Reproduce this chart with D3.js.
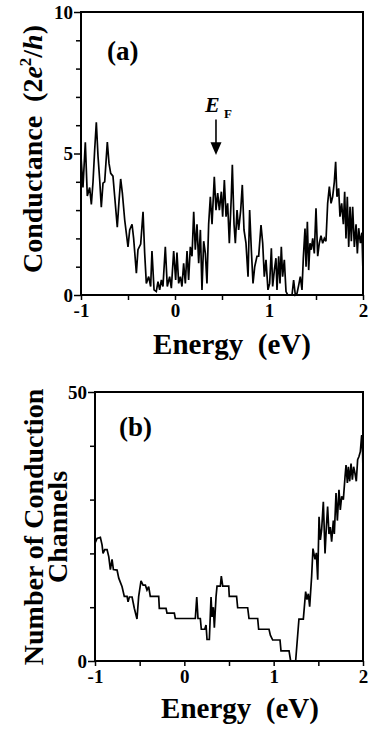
<!DOCTYPE html>
<html><head><meta charset="utf-8">
<script src="https://cdn.jsdelivr.net/npm/d3@7/dist/d3.min.js"></script>
<style>
html,body{margin:0;padding:0;background:#fff;}
svg{display:block;}
text{font-family:"Liberation Serif","Times New Roman",serif;font-weight:bold;fill:#000;}
</style></head>
<body>
<svg id="chart" width="371" height="730"></svg>
<script>
// ---- Panel (a): conductance vs energy ----
const energyA = [-1.0,-0.979,-0.954,-0.933,-0.908,-0.890,-0.872,-0.855,-0.837,-0.819,
 -0.801,-0.784,-0.766,-0.748,-0.720,-0.702,-0.684,-0.660,-0.642,-0.614,
 -0.596,-0.578,-0.560,-0.535,-0.500,-0.482,-0.457,-0.440,-0.411,-0.394,
 -0.365,-0.340,-0.323,-0.305,-0.280,-0.259,-0.245,-0.223,-0.199,-0.181,
 -0.163,-0.145,-0.128,-0.103,-0.082,-0.057,-0.039,-0.014,0.007,0.021,
 0.039,0.057,0.074,0.092,0.110,0.128,0.145,0.163,0.181,0.199,
 0.216,0.234,0.252,0.270,0.287,0.305,0.323,0.340,0.358,0.376,
 0.394,0.418,0.436,0.454,0.472,0.493,0.507,0.525,0.543,0.560,
 0.578,0.599,0.610,0.628,0.642,0.660,0.677,0.699,0.716,0.734,
 0.755,0.777,0.794,0.812,0.830,0.848,0.872,0.890,0.915,0.933,
 0.950,0.968,0.989,1.007,
 1.025,1.039,1.057,1.074,1.085,1.103,1.117,1.131,1.145,1.163,
 1.181,1.199,1.216,1.245,1.262,1.280,1.298,1.316,1.333,1.351,
 1.365,1.383,1.394,1.408,1.422,1.436,1.450,1.465,1.482,1.500,
 1.518,1.535,1.553,1.571,1.589,1.606,1.624,1.642,1.660,1.677,
 1.695,1.709,1.723,1.741,1.755,1.773,1.791,1.805,1.819,1.833,
 1.848,1.862,1.876,1.890,1.908,1.926,1.940,1.954,1.972,1.989,2.0];
const conductanceA = [4.9,3.8,5.4,3.5,3.8,3.2,4.0,5.1,6.1,4.9,
 4.06,3.1,3.95,4.0,5.4,4.65,4.3,4.2,3.5,2.4,
 3.3,4.1,3.6,2.65,1.7,2.3,2.5,2.0,0.77,1.6,
 1.8,2.94,1.5,0.41,0.65,0.3,1.55,0.18,0.12,0.47,
 0.18,0.53,0.3,1.7,0.3,0.65,0.24,1.55,0.53,1.5,
 0.41,0.65,0.3,1.12,0.41,1.55,0.53,1.7,1.37,2.94,
 1.6,2.5,1.12,2.3,0.18,1.9,1.47,0.41,2.5,3.47,
 2.5,4.18,3.0,3.6,3.0,3.65,2.77,4.06,2.77,3.24,
 1.83,3.47,4.6,2.5,1.83,3.0,2.3,3.0,3.89,2.3,
 1.83,0.65,3.0,1.6,0.41,1.0,1.37,1.37,2.47,1.83,
 0.65,1.24,0.18,0.41,
 1.65,0.3,0.88,1.3,0.18,1.37,0.41,1.7,0.65,1.24,
 0.12,0,0,0,0.53,0,0.06,0.35,0.65,0.18,
 1.3,2.35,1.0,2.59,0.88,1.83,1.6,2.0,1.47,3.06,
 1.37,1.83,2.1,1.83,2.0,1.9,3.24,3.83,3.24,3.47,
 4.0,4.71,3.47,3.77,2.77,3.24,2.5,3.65,2.0,3.47,
 1.7,3.12,1.9,3.12,1.7,2.5,1.47,2.36,1.83,2.2,0.77];

// ---- Panel (b): number of conduction channels vs energy ----
const energyB = [-1.0,-0.977,-0.940,-0.921,-0.910,-0.891,-0.865,-0.846,-0.828,-0.809,
 -0.794,-0.753,-0.734,-0.697,-0.672,-0.641,-0.630,-0.615,-0.585,-0.560,
 -0.530,-0.511,-0.485,-0.462,-0.436,-0.418,-0.399,-0.381,-0.287,-0.280,
 -0.205,-0.194,-0.112,-0.101,0.123,0.139,0.153,0.179,0.190,0.228,
 0.243,0.254,0.280,0.299,0.310,0.325,0.336,0.355,0.366,0.403,
 0.414,0.430,0.497,0.503,0.585,0.597,0.709,0.724,0.821,0.832,
 0.948,0.963,0.989,1.071,1.082,1.172,1.190,1.246,1.283,1.332,
 1.358,1.373,1.388,1.403,1.425,1.440,1.463,1.478,1.493,1.508,
 1.523,1.537,1.556,1.575,1.590,1.604,1.619,1.634,1.649,1.668,
 1.679,1.698,1.713,1.731,1.746,1.761,1.780,1.799,1.810,1.825,
 1.836,1.851,1.866,1.881,1.895,1.910,1.925,1.940,1.955,1.970,
 1.985,1.996,2.0];
const channelsB = [21.9,22.8,23.0,21.6,20.0,20.7,20.7,19.4,17.0,18.9,
 17.0,16.9,15.4,13.8,12.0,12.0,11.0,11.9,11.9,9.8,
 7.8,12.0,14.9,14.1,14.1,13.2,13.8,12.0,12.0,9.8,
 9.8,8.9,8.9,7.9,7.9,11.9,7.9,7.9,5.9,5.9,
 6.7,4.0,4.0,11.9,8.2,10.0,6.2,12.0,13.9,13.9,
 15.8,13.9,13.9,12.0,12.0,9.9,9.9,7.9,7.9,5.9,
 5.9,4.8,3.9,3.9,1.9,1.9,0,0,7.8,7.8,
 12.9,11.4,12.5,10.1,15.7,20.9,18.9,20.1,15.1,26.8,
 22.5,24.4,29.6,20.0,24.9,28.7,23.6,24.9,22.2,26.1,
 23.6,31.2,26.1,31.8,28.1,30.6,30.0,34.3,36.4,33.1,
 36.1,33.4,36.7,33.7,36.1,34.9,33.4,37.4,38.0,38.9,
 42.0,38.6,35.2];

// tick values / labels
const xTicks = [-1,-0.5,0,0.5,1,1.5,2];
const xTickLabels = [-1,0,1,2];
const yTicksA = [0,1,2,3,4,5,6,7,8,9,10];
const yTickLabelsA = [0,5,10];
const yTicksB = [0,10,20,30,40,50];
const yTickLabelsB = [0,50];
const fermiEnergy = 0.436;

const svg = d3.select("#chart");

function panel(o){
  const g = svg.append("g");
  const x = d3.scaleLinear().domain([-1,2]).range([o.left,o.right]);
  const y = d3.scaleLinear().domain(o.yDomain).range([o.bottom,o.top]);
  const xa = g.append("g").attr("transform",`translate(0,${o.bottom})`)
    .call(d3.axisBottom(x).tickValues(xTicks).tickSize(5).tickPadding(4)
      .tickFormat(d=> xTickLabels.includes(d) ? String(d) : ""));
  xa.select(".domain").remove();
  xa.selectAll("line").attr("stroke","#000").attr("stroke-width",1.5);
  xa.selectAll("text").attr("font-size",19).attr("font-family",null)
    .style("font-family","'Liberation Serif',serif").style("font-weight","bold");
  const ya = g.append("g").attr("transform",`translate(${o.left},0)`)
    .call(d3.axisLeft(y).tickValues(o.yTicks).tickSize(5).tickPadding(3)
      .tickFormat(d=> o.yLabels.includes(d) ? String(d) : ""));
  ya.select(".domain").remove();
  ya.selectAll("line").attr("stroke","#000").attr("stroke-width",1.5);
  ya.selectAll(".tick").filter(d=>o.yLabels.includes(d)).select("line").attr("x2",-7);
  ya.selectAll("text").attr("font-size",19).attr("font-family",null)
    .style("font-family","'Liberation Serif',serif").style("font-weight","bold");
  g.append("rect").attr("x",o.left).attr("y",o.top)
    .attr("width",o.right-o.left).attr("height",o.bottom-o.top)
    .attr("fill","none").attr("stroke","#000").attr("stroke-width",2);
  const pts = o.xs.map((e,i)=>[e,o.ys[i]]);
  g.append("path").datum(pts)
    .attr("fill","none").attr("stroke","#000").attr("stroke-width",1.7)
    .attr("stroke-linejoin","miter").attr("stroke-miterlimit",3)
    .attr("d", d3.line().x(d=>x(d[0])).y(d=>y(d[1])));
  return {g,x,y};
}

const A = panel({left:81,right:363,top:12,bottom:295,yDomain:[0,10],
  yTicks:yTicksA,yLabels:yTickLabelsA,xs:energyA,ys:conductanceA});
const B = panel({left:95,right:363,top:392,bottom:661,yDomain:[0,50],
  yTicks:yTicksB,yLabels:yTickLabelsB,xs:energyB,ys:channelsB});

svg.append("text").attr("x",107).attr("y",60).attr("font-size",27).text("(a)");
svg.append("text").attr("x",119).attr("y",436).attr("font-size",27).text("(b)");

svg.append("text").attr("x",232).attr("y",354).attr("font-size",29)
  .attr("text-anchor","middle").style("white-space","pre").text("Energy  (eV)");
svg.append("text").attr("x",240).attr("y",718).attr("font-size",29)
  .attr("text-anchor","middle").style("white-space","pre").text("Energy  (eV)");

const ta = svg.append("text").attr("transform","translate(42,149) rotate(-90)")
  .attr("font-size",28).attr("text-anchor","middle").style("white-space","pre");
ta.append("tspan").text("Conductance  (2");
ta.append("tspan").style("font-style","italic").text("e");
ta.append("tspan").attr("font-size",17).attr("dy",-11).text("2");
ta.append("tspan").attr("dy",11).text("/");
ta.append("tspan").style("font-style","italic").text("h");
ta.append("tspan").text(")");

svg.append("text").attr("transform","translate(43,527) rotate(-90)")
  .attr("font-size",28).attr("text-anchor","middle").text("Number of Conduction");
svg.append("text").attr("transform","translate(67,527) rotate(-90)")
  .attr("font-size",28).attr("text-anchor","middle").text("Channels");

const fx = A.x(fermiEnergy);
svg.append("text").attr("x",fx-11).attr("y",112).attr("font-size",22)
  .style("font-style","italic").text("E");
svg.append("text").attr("x",fx+8).attr("y",118).attr("font-size",13).text("F");
svg.append("line").attr("x1",fx).attr("x2",fx).attr("y1",A.y(6.2)).attr("y2",A.y(5.3))
  .attr("stroke","#000").attr("stroke-width",1.6);
svg.append("path")
  .attr("d",`M${fx-5.5},${A.y(5.4)} L${fx+5.5},${A.y(5.4)} L${fx},${A.y(4.95)} Z`)
  .attr("fill","#000");
</script>
</body></html>
